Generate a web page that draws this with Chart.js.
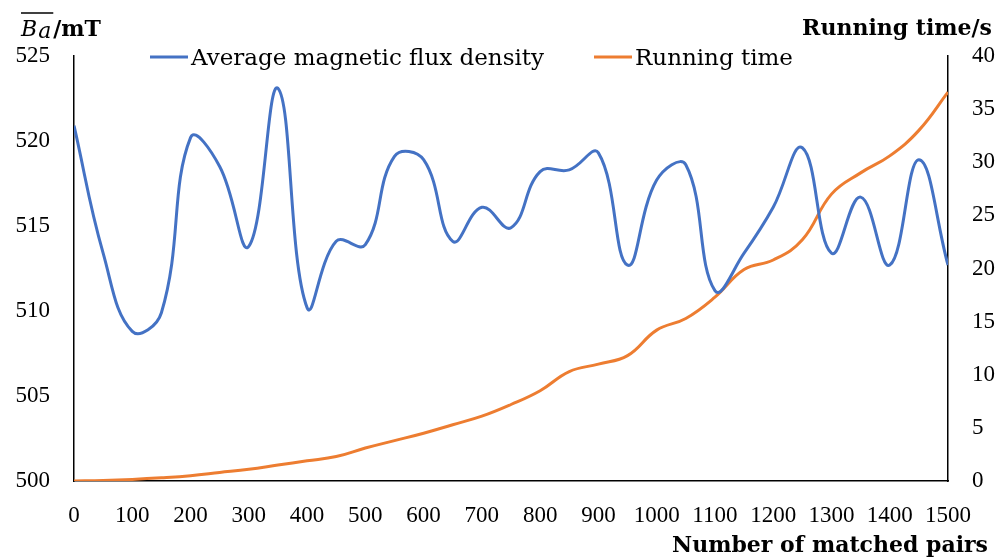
<!DOCTYPE html>
<html>
<head>
    <title>Magnetic flux density vs running time</title>
    <script src="https://cdn.jsdelivr.net/npm/chart.js"></script>
    <style>
      html, body { margin: 0; padding: 0; background: #fff; }
    </style>
</head>
<body>
<canvas id="fluxChart" width="1006" height="558"></canvas>

<script>
    // values
    const pairs = [0, 50, 100, 150, 200, 250, 300, 350, 400, 450, 500, 550, 600, 650, 700, 750,
                   800, 850, 900, 950, 1000, 1050, 1100, 1150, 1200, 1250, 1300, 1350, 1400, 1450, 1500];
    const fluxDensity = [520.9, 513.4, 508.8, 509.9, 520.2, 518.5, 513.8, 523.1, 510.2, 514.1, 513.9,
                         519.1, 518.9, 514.1, 516.1, 514.9, 518.2, 518.3, 519.3, 512.7, 517.7, 518.6,
                         511.2, 513.4, 516.1, 519.6, 513.4, 516.7, 512.7, 518.9, 512.7];
    const runningTime = [0, 0.05, 0.15, 0.3, 0.5, 0.8, 1.1, 1.5, 1.9, 2.3, 3.1, 3.8, 4.5, 5.3, 6.1, 7.2,
                         8.5, 10.3, 11.0, 11.8, 14.2, 15.3, 17.3, 19.9, 20.8, 22.7, 27.0, 29.0, 30.6, 33.0, 36.6];
    const seriesNames = ['Average magnetic flux density', 'Running time'];
    const blue = '#4472C4', orange = '#ED7D31';

    const tickFont = { family: 'Liberation Serif', size: 23 };
    const textFont = 'DejaVu Serif';
    const plain = v => String(v);

    // legend + axis titles drawn on top
    const labelsPlugin = {
      id: 'labels',
      afterDraw(chart) {
        const ctx = chart.ctx;
        ctx.save();
        ctx.fillStyle = '#000';
        ctx.textBaseline = 'alphabetic';

        // left title: B-bar a / mT
        ctx.font = 'italic 22px "' + textFont + '"';
        let x = 21;
        ctx.fillText('B', x, 36);
        const wB = ctx.measureText('B').width;
        ctx.fillText('a', x + wB + 1, 38);
        const wa = ctx.measureText('a').width;
        ctx.strokeStyle = '#000';
        ctx.lineWidth = 1.5;
        ctx.beginPath();
        ctx.moveTo(x, 13);
        ctx.lineTo(x + wB + wa + 3, 13);
        ctx.stroke();
        ctx.font = 'bold 22px "' + textFont + '"';
        ctx.fillText('/mT', x + wB + wa + 3, 36);

        // right title
        ctx.textAlign = 'right';
        ctx.fillText('Running time/s', 992, 35);
        // x title
        ctx.fillText('Number of matched pairs', 988, 552);

        // legend
        ctx.textAlign = 'left';
        ctx.font = '23px "' + textFont + '"';
        const items = [[150, blue, seriesNames[0]], [594, orange, seriesNames[1]]];
        items.forEach(([lx, col, name]) => {
          ctx.strokeStyle = col;
          ctx.lineWidth = 3;
          ctx.beginPath();
          ctx.moveTo(lx, 57);
          ctx.lineTo(lx + 38, 57);
          ctx.stroke();
          ctx.fillText(name, lx + 41, 65);
        });
        ctx.restore();
      }
    };

    new Chart(document.getElementById('fluxChart').getContext('2d'), {
      type: 'line',
      data: {
        datasets: [{
          label: seriesNames[0],
          data: pairs.map((p, i) => ({ x: p, y: fluxDensity[i] })),
          borderColor: blue,
          borderWidth: 3,
          pointRadius: 0,
          tension: 0.42,
          yAxisID: 'yB'
        }, {
          label: seriesNames[1],
          data: pairs.map((p, i) => ({ x: p, y: runningTime[i] })),
          borderColor: orange,
          borderWidth: 3,
          pointRadius: 0,
          tension: 0.42,
          yAxisID: 'yT'
        }]
      },
      options: {
        responsive: false,
        animation: false,
        layout: { padding: { top: 56, left: 0, right: 0, bottom: 0 } },
        plugins: { legend: { display: false }, tooltip: { enabled: false } },
        scales: {
          x: {
            type: 'linear', min: 0, max: 1500,
            ticks: { stepSize: 100, color: '#000', font: tickFont, padding: 21, maxRotation: 0, callback: plain },
            grid: { display: false, drawTicks: false },
            border: { color: '#000', width: 1.5 },
            afterFit(s) { s.height = 77; }
          },
          yB: {
            position: 'left', min: 500, max: 525,
            ticks: { stepSize: 5, color: '#000', font: tickFont, padding: 24, callback: plain },
            grid: { display: false, drawTicks: false },
            border: { color: '#000', width: 1.5 },
            afterFit(s) { s.width = 74; }
          },
          yT: {
            position: 'right', min: 0, max: 40,
            ticks: { stepSize: 5, color: '#000', font: tickFont, padding: 24, callback: plain },
            grid: { display: false, drawTicks: false },
            border: { color: '#000', width: 1.5 },
            afterFit(s) { s.width = 58; }
          }
        }
      },
      plugins: [labelsPlugin]
    });
</script>
</body>
</html>
